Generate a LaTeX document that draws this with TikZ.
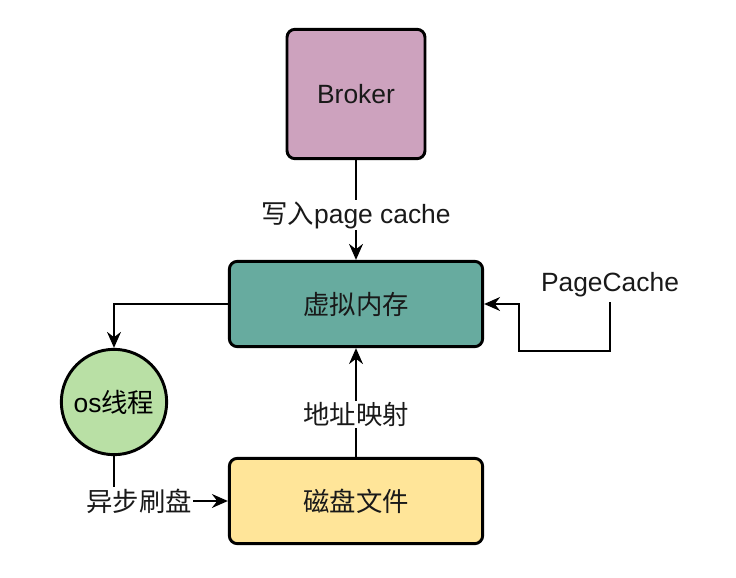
\documentclass[tikz,border=0pt]{standalone}
\usepackage{fontspec}
\setmainfont{Liberation Sans}
\newfontfamily\cjk{Noto Sans CJK SC}
\usetikzlibrary{arrows.meta}
\definecolor{brokerfill}{HTML}{CDA2BE}
\definecolor{memfill}{HTML}{67AB9F}
\definecolor{diskfill}{HTML}{FFE599}
\definecolor{osfill}{HTML}{B9E0A5}
\begin{document}
\begin{tikzpicture}[
   x=0.75pt,y=-0.75pt,
   font=\fontsize{19.8}{23}\selectfont,
   box/.style={draw,line width=2.2pt,rounded corners=6pt,text=black!90},
   wide/.style={box,minimum width=190pt,minimum height=64pt},
   os/.style={draw,circle,line width=2.2pt,minimum size=79pt,inner sep=0pt,fill=osfill},
   to/.style={-{Stealth[length=12pt,width=10.5pt,inset=4pt]},line width=1.1pt},
   lbl/.style={fill=white,inner sep=1pt,text=black!90}]
\useasboundingbox (0,0) rectangle (736,578);
% nodes
\node[box,fill=brokerfill,minimum width=103.5pt,minimum height=97pt] (broker) at (356,94) {Broker};
\node[wide,fill=memfill] (mem) at (356,304) {\cjk 虚拟内存};
\node[wide,fill=diskfill] (disk) at (356,501) {\cjk 磁盘文件};
\node[os] (osthread) at (114,402) {os{\cjk 线程}};
\node[text=black!90] (pc) at (610,285) {PageCache};
\coordinate (pcturn) at (519,351);
% edges
\draw[to] (broker) -- node[lbl,pos=0.55] {{\cjk 写入}page cache} (mem);
\draw[to] (disk) -- node[lbl,pos=0.39] {\cjk 地址映射} (mem);
\draw[to] (mem.west) -| (osthread.north);
\draw[to] (osthread.south) |- node[lbl,pos=0.61] {\cjk 异步刷盘} (disk.west);
\draw[to] (pc.south) |- (pcturn) |- (mem.east);
\end{tikzpicture}
\end{document}
